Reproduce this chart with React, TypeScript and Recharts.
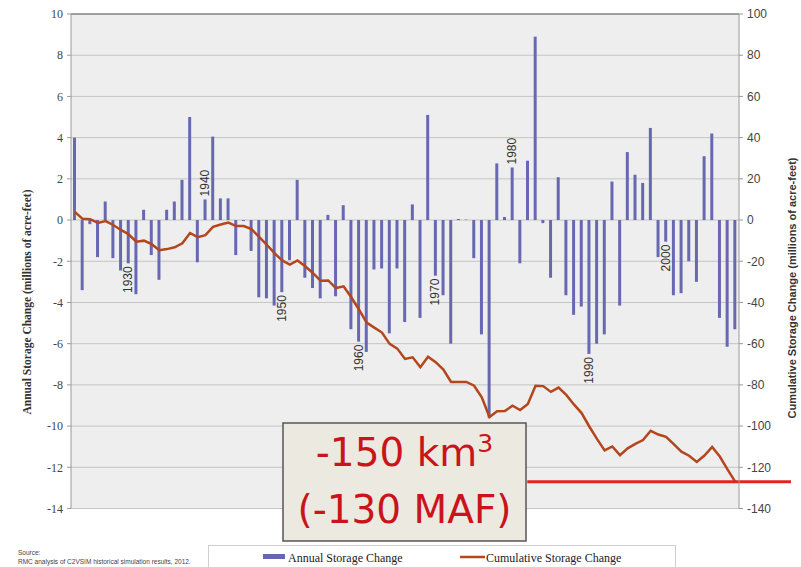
import React from "react";
import {
  ComposedChart,
  Bar,
  Line,
  XAxis,
  YAxis,
  CartesianGrid,
  ReferenceLine,
  LabelList,
} from "recharts";

// water years shown on the chart
const years = [
  1923, 1924, 1925, 1926, 1927, 1928, 1929, 1930, 1931, 1932,
  1933, 1934, 1935, 1936, 1937, 1938, 1939, 1940, 1941, 1942,
  1943, 1944, 1945, 1946, 1947, 1948, 1949, 1950, 1951, 1952,
  1953, 1954, 1955, 1956, 1957, 1958, 1959, 1960, 1961, 1962,
  1963, 1964, 1965, 1966, 1967, 1968, 1969, 1970, 1971, 1972,
  1973, 1974, 1975, 1976, 1977, 1978, 1979, 1980, 1981, 1982,
  1983, 1984, 1985, 1986, 1987, 1988, 1989, 1990, 1991, 1992,
  1993, 1994, 1995, 1996, 1997, 1998, 1999, 2000, 2001, 2002,
  2003, 2004, 2005, 2006, 2007, 2008, 2009,
];

// millions of acre-feet, left axis
const annualChange = [
  4.0, -3.4, -0.2, -1.8, 0.9, -1.85, -2.45, -2.1, -3.6, 0.5,
  -1.7, -2.9, 0.5, 0.9, 1.95, 5.0, -2.05, 1.0, 4.05, 1.05,
  1.05, -1.7, -0.05, -1.5, -3.75, -3.8, -4.15, -3.5, -1.95, 1.95,
  -2.8, -3.3, -3.8, 0.25, -3.7, 0.72, -5.3, -5.9, -6.4, -2.4,
  -2.35, -5.5, -2.35, -4.95, 0.76, -4.75, 5.1, -2.7, -3.65, -6.0,
  0.05, 0.02, -1.85, -5.55, -9.6, 2.75, 0.15, 2.55, -2.1, 2.88,
  8.9, -0.15, -2.8, 2.08, -3.65, -4.6, -4.2, -6.5, -6.0, -5.55,
  1.87, -4.15, 3.3, 2.2, 1.8, 4.47, -1.8, -1.05, -3.65, -3.55,
  -2.0, -3.0, 3.1, 4.2, -4.75, -6.15, -5.3,
];

// millions of acre-feet, right axis
const cumulativeChange = [
  4.0, 0.6, 0.4, -1.4, -0.5, -2.4, -4.8, -6.9, -10.5, -10.0,
  -11.7, -14.6, -14.1, -13.2, -11.3, -6.3, -8.3, -7.3, -3.3, -2.2,
  -1.2, -2.9, -2.9, -4.4, -8.2, -12.0, -16.1, -19.6, -21.6, -19.6,
  -22.4, -25.7, -29.5, -29.3, -33.0, -32.2, -37.5, -43.4, -49.8, -52.2,
  -54.6, -60.1, -62.4, -67.4, -66.6, -71.4, -66.3, -69.0, -72.6, -78.6,
  -78.6, -78.6, -80.4, -86.0, -95.6, -92.8, -92.7, -90.1, -92.2, -89.3,
  -80.4, -80.6, -83.4, -81.3, -84.9, -89.5, -93.7, -100.2, -106.2, -111.8,
  -109.9, -114.1, -110.8, -108.6, -106.8, -102.3, -104.1, -105.2, -108.8, -112.4,
  -114.4, -117.4, -114.3, -110.1, -114.8, -121.0, -127.0,
];

const decadeLabels = [1930, 1940, 1950, 1960, 1970, 1980, 1990, 2000];
const leftTicks = [10, 8, 6, 4, 2, 0, -2, -4, -6, -8, -10, -12, -14];
const rightTicks = [100, 80, 60, 40, 20, 0, -20, -40, -60, -80, -100, -120, -140];
const totalLoss = -127;

const BAR_COLOR = "#6868b2";
const LINE_COLOR = "#b4461c";
const RED = "#c8141a";

const data = years.map((year, i) => ({
  year: String(year),
  annual: annualChange[i],
  cumulative: cumulativeChange[i],
}));

const YearLabel = (props: any) => {
  const { index } = props;
  const year = years[index];
  if (!decadeLabels.includes(year)) return null;
  const vb = props.viewBox ?? props;
  const x = Number(vb.x);
  const y = Number(vb.y);
  const w = Number(vb.width);
  const h = Number(vb.height);
  const v = annualChange[index];
  const cx = x + w / 2;
  const end = v < 0 ? Math.max(y, y + h) + 3 : Math.min(y, y + h) - 3;
  return (
    <text
      x={cx}
      y={end}
      transform={`rotate(-90 ${cx} ${end})`}
      textAnchor={v < 0 ? "end" : "start"}
      dominantBaseline="central"
      fontSize={12}
      fontFamily='"Liberation Sans", Arial, sans-serif'
      fill="#333"
    >
      {year}
    </text>
  );
};

// horizontal marker at the total loss, running from the callout box past the right axis
const RedLevel = (p: any) => {
  const left = Math.min(p.x1, p.x2);
  const right = Math.max(p.x1, p.x2);
  return (
    <line
      x1={left + (right - left) * 0.683}
      x2={right + 52}
      y1={p.y1}
      y2={p.y2}
      stroke="#e3241c"
      strokeWidth={3}
    />
  );
};

export default function App() {
  return (
    <div style={{ position: "absolute", left: 0, top: 0, width: 801, height: 567, background: "#fff" }}>
      <ComposedChart
        width={801}
        height={567}
        data={data}
        margin={{ top: 14, right: 0, bottom: 58.5, left: 0 }}
      >
        <CartesianGrid yAxisId="left" vertical={false} stroke="#c4c4c4" fill="#eeeeee" />
        <XAxis dataKey="year" hide />
        <YAxis
          yAxisId="left"
          orientation="left"
          width={71}
          domain={[-14, 10]}
          ticks={leftTicks}
          interval={0}
          tickSize={4}
          tickMargin={4}
          axisLine={{ stroke: "#9a9a9a" }}
          tickLine={{ stroke: "#9a9a9a" }}
          tick={{ fill: "#444", fontSize: 12, fontFamily: '"Liberation Serif", serif' }}
        />
        <YAxis
          yAxisId="right"
          orientation="right"
          width={62}
          domain={[-140, 100]}
          ticks={rightTicks}
          interval={0}
          tickSize={4}
          tickMargin={4}
          axisLine={{ stroke: "#9a9a9a" }}
          tickLine={{ stroke: "#9a9a9a" }}
          tick={{ fill: "#444", fontSize: 12, fontFamily: '"Liberation Sans", Arial, sans-serif' }}
        />
        <ReferenceLine yAxisId="left" y={10} stroke="#8a8a8a" strokeWidth={1.5} />
        <Bar yAxisId="left" dataKey="annual" fill={BAR_COLOR} barSize={3} isAnimationActive={false}>
          <LabelList dataKey="year" content={YearLabel} />
        </Bar>
        <Line
          yAxisId="right"
          type="linear"
          dataKey="cumulative"
          stroke={LINE_COLOR}
          strokeWidth={2.5}
          dot={false}
          isAnimationActive={false}
        />
        <ReferenceLine yAxisId="right" y={totalLoss} shape={RedLevel} />
      </ComposedChart>

      <svg
        width={801}
        height={567}
        style={{ position: "absolute", left: 0, top: 0, pointerEvents: "none" }}
      >
        <text
          transform="translate(27 302) rotate(-90)"
          textAnchor="middle"
          dominantBaseline="central"
          fontFamily='"Liberation Serif", serif'
          fontWeight="bold"
          fontSize={11.5}
          fill="#333"
        >
          Annual Storage Change (millions of acre-feet)
        </text>
        <text
          transform="translate(792 288) rotate(-90)"
          textAnchor="middle"
          dominantBaseline="central"
          fontFamily='"Liberation Sans", Arial, sans-serif'
          fontWeight="bold"
          fontSize={11}
          fill="#333"
        >
          Cumulative Storage Change (millions of acre-feet)
        </text>

        <rect x={283} y={423} width={243} height={118} fill="#ece9e1" stroke="#555" strokeWidth={1.5} />
        <text
          x={404.5}
          y={466}
          textAnchor="middle"
          fontFamily='"DejaVu Sans", sans-serif'
          fontSize={39}
          fill={RED}
        >
          -150 km<tspan fontSize={25} dy={-14}>3</tspan>
        </text>
        <text
          x={404.5}
          y={523}
          textAnchor="middle"
          fontFamily='"DejaVu Sans", sans-serif'
          fontSize={39}
          fill={RED}
        >
          (-130 MAF)
        </text>

        <rect x={208.5} y={545.5} width={467} height={30} fill="#fff" stroke="#cfcfcf" />
        <rect x={263} y={554} width={22} height={5} fill={BAR_COLOR} />
        <text x={288} y={562} fontFamily='"Liberation Serif", serif' fontSize={12} fill="#222">
          Annual Storage Change
        </text>
        <line x1={460} x2={485} y1={557} y2={557} stroke={LINE_COLOR} strokeWidth={2.5} />
        <text x={486} y={562} fontFamily='"Liberation Serif", serif' fontSize={12} fill="#222">
          Cumulative Storage Change
        </text>

        <text x={18} y={555} fontFamily='"Liberation Sans", Arial, sans-serif' fontSize={6.5} fill="#444">
          Source:
        </text>
        <text x={18} y={564} fontFamily='"Liberation Sans", Arial, sans-serif' fontSize={6.5} fill="#444">
          RMC analysis of C2VSIM historical simulation results, 2012.
        </text>
      </svg>
    </div>
  );
}
